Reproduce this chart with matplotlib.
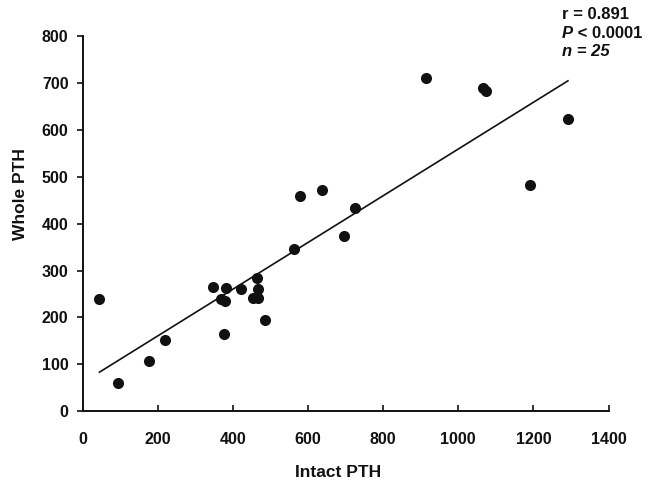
import matplotlib
matplotlib.use("Agg")
import matplotlib.pyplot as plt
import numpy as np

plt.rcParams['font.family'] = ['Liberation Sans', 'DejaVu Sans']
plt.rcParams['font.weight'] = 'bold'

intact_pth = [45, 95, 176, 219, 346, 382, 369, 380, 377, 422, 465, 466, 453, 468,
              487, 562, 580, 638, 725, 697, 914, 1065, 1074, 1292, 1192]
whole_pth = [239, 60, 107, 151, 266, 262, 240, 235, 164, 260, 285, 261, 242, 241,
             194, 345, 459, 471, 434, 373, 710, 690, 682, 622, 483]
fit_slope = 0.498
fit_intercept = 61.0
x_ticks = [0, 200, 400, 600, 800, 1000, 1200, 1400]
y_ticks = [0, 100, 200, 300, 400, 500, 600, 700, 800]

ink = '#111111'
fig = plt.figure(figsize=(6.58, 4.83), dpi=100)
ax = fig.add_axes([0.1254, 0.1484, 0.7994, 0.7771])

ax.scatter(intact_pth, whole_pth, s=64, color=ink, zorder=3, linewidths=0)
xl = np.array([min(intact_pth), max(intact_pth)])
ax.plot(xl, fit_slope * xl + fit_intercept, color=ink, lw=1.2)

ax.set_xlim(0, 1400)
ax.set_ylim(0, 800)
ax.set_xticks(x_ticks)
ax.set_yticks(y_ticks)
for s in ['top', 'right']:
    ax.spines[s].set_visible(False)
for s in ['left', 'bottom']:
    ax.spines[s].set_linewidth(1.4)
    ax.spines[s].set_color(ink)
ax.tick_params(axis='x', direction='in', length=4, width=1.2, pad=15, labelsize=11.5, colors=ink)
ax.tick_params(axis='y', direction='out', length=4, width=1.2, pad=6, labelsize=11.5, colors=ink)
for lab in ax.get_xticklabels() + ax.get_yticklabels():
    lab.set_fontweight('bold')

fig.text(0.514, 0.021, 'Intact PTH', ha='center', va='center', fontsize=12.5, fontweight='bold', color=ink)
fig.text(0.031, 0.598, 'Whole PTH', ha='center', va='center', rotation=90, fontsize=12.5, fontweight='bold', color=ink)

fs = 12
fig.text(0.854, 0.969, 'r = 0.891', ha='left', va='center', fontsize=fs, fontweight='bold', color=ink)
tp = fig.text(0.854, 0.931, 'P', ha='left', va='center', fontsize=fs, fontweight='bold', style='italic', color=ink)
fig.canvas.draw()
ax.annotate(' < 0.0001', xy=(1, 0.5), xycoords=tp, ha='left', va='center', fontsize=fs, fontweight='bold', color=ink, annotation_clip=False)
fig.text(0.854, 0.894, 'n = 25', ha='left', va='center', fontsize=fs, fontweight='bold', style='italic', color=ink)

fig.savefig('out.png', dpi=100)
